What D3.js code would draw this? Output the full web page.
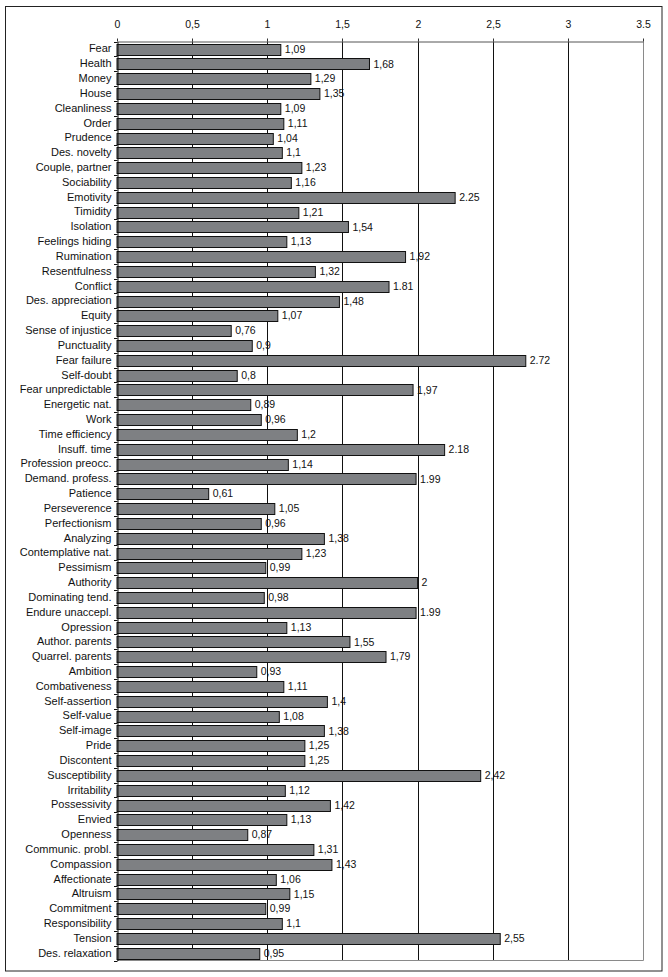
<!DOCTYPE html>
<html><head><meta charset="utf-8">
<script src="https://cdn.jsdelivr.net/npm/d3@7/dist/d3.min.js"></script>
<style>body{margin:0;background:#fff;} svg{display:block;}</style>
</head><body>
<script>
const categories = ["Fear","Health","Money","House","Cleanliness","Order","Prudence","Des. novelty","Couple, partner","Sociability","Emotivity","Timidity","Isolation","Feelings hiding","Rumination","Resentfulness","Conflict","Des. appreciation","Equity","Sense of injustice","Punctuality","Fear failure","Self-doubt","Fear unpredictable","Energetic nat.","Work","Time efficiency","Insuff. time","Profession preocc.","Demand. profess.","Patience","Perseverence","Perfectionism","Analyzing","Contemplative nat.","Pessimism","Authority","Dominating tend.","Endure unaccepl.","Opression","Author. parents","Quarrel. parents","Ambition","Combativeness","Self-assertion","Self-value","Self-image","Pride","Discontent","Susceptibility","Irritability","Possessivity","Envied","Openness","Communic. probl.","Compassion","Affectionate","Altruism","Commitment","Responsibility","Tension","Des. relaxation"];
const values = [1.09,1.68,1.29,1.35,1.09,1.11,1.04,1.1,1.23,1.16,2.25,1.21,1.54,1.13,1.92,1.32,1.81,1.48,1.07,0.76,0.9,2.72,0.8,1.97,0.89,0.96,1.2,2.18,1.14,1.99,0.61,1.05,0.96,1.38,1.23,0.99,2,0.98,1.99,1.13,1.55,1.79,0.93,1.11,1.4,1.08,1.38,1.25,1.25,2.42,1.12,1.42,1.13,0.87,1.31,1.43,1.06,1.15,0.99,1.1,2.55,0.95];
const valueLabels = ["1,09","1,68","1,29","1,35","1,09","1,11","1,04","1,1","1,23","1,16","2.25","1,21","1,54","1,13","1,92","1,32","1.81","1,48","1,07","0,76","0,9","2.72","0,8","1,97","0,89","0,96","1,2","2.18","1,14","1.99","0,61","1,05","0,96","1,38","1,23","0,99","2","0,98","1.99","1,13","1,55","1,79","0,93","1,11","1,4","1,08","1,38","1,25","1,25","2,42","1,12","1,42","1,13","0,87","1,31","1,43","1,06","1,15","0,99","1,1","2,55","0,95"];
const tickValues = [0,0.5,1,1.5,2,2.5,3,3.5];
const tickLabels = ["0","0,5","1","1,5","2","2,5","3","3.5"];

const W = 668, H = 977;
const mLeft = 117, mRight = 643, mTop = 41.5, mBottom = 960.5;
const font = "'Liberation Sans', Arial, sans-serif";

const svg = d3.select("body").append("svg").attr("width", W).attr("height", H);

svg.append("rect").attr("x",5.5).attr("y",6.5).attr("width",656.5).attr("height",964.5)
  .attr("fill","#fff").attr("stroke","#222").attr("stroke-width",1);

const x = d3.scaleLinear().domain([0,3.5]).range([mLeft,mRight]);
const y = d3.scaleBand().domain(categories).range([mTop,mBottom]).paddingInner(0.28).paddingOuter(0.14);

// gridlines
svg.append("g").selectAll("line").data(tickValues.slice(1)).join("line")
  .attr("x1",d=>Math.round(x(d))+0.5).attr("x2",d=>Math.round(x(d))+0.5)
  .attr("y1",mTop).attr("y2",mBottom)
  .attr("stroke",d=>d===3.5?"#8a8a8a":"#111").attr("stroke-width",1);
svg.append("line").attr("x1",mLeft).attr("x2",Math.round(x(3.5))+0.5).attr("y1",mBottom).attr("y2",mBottom)
  .attr("stroke","#8a8a8a");

// top axis
const xAxis = d3.axisTop(x).tickValues(tickValues).tickFormat((d,i)=>tickLabels[i]).tickSize(3).tickSizeOuter(0);
const gx = svg.append("g").attr("transform",`translate(0,${mTop})`).call(xAxis);
gx.select(".domain").attr("stroke","#555");
gx.selectAll(".tick line").attr("stroke","#333");
gx.selectAll(".tick text").attr("font-family",font).attr("font-size","10.5px").attr("fill","#111").attr("dy","-8");
gx.selectAll(".tick").attr("transform",d=>`translate(${Math.round(x(d))+0.5},0)`);

// bars
svg.append("g").selectAll("rect").data(values).join("rect")
  .attr("x",x(0)).attr("y",(d,i)=>Math.round(y(categories[i]))+0.5)
  .attr("width",d=>x(d)-x(0)).attr("height",Math.round(y.bandwidth()))
  .attr("fill","#7e8083").attr("stroke","#111").attr("stroke-width",1);

// value labels
svg.append("g").selectAll("text").data(values).join("text")
  .attr("x",d=>x(d)+4).attr("y",(d,i)=>y(categories[i])+y.bandwidth()/2)
  .attr("dy","0.36em").attr("font-family",font).attr("font-size","10.5px").attr("fill","#111")
  .text((d,i)=>valueLabels[i]);

// left axis
const yAxis = d3.axisLeft(y).tickSize(0).tickPadding(6);
const gy = svg.append("g").attr("transform",`translate(${mLeft+0.5},0)`).call(yAxis);
gy.select(".domain").attr("stroke","#111");
gy.selectAll(".tick text").attr("font-family",font).attr("font-size","11px").attr("fill","#111");
const bounds = d3.range(categories.length+1).map(i=>mTop + i*(mBottom-mTop)/categories.length);
svg.append("g").selectAll("line").data(bounds).join("line")
  .attr("x1",mLeft-3).attr("x2",mLeft+0.5).attr("y1",d=>Math.round(d)+0.5).attr("y2",d=>Math.round(d)+0.5)
  .attr("stroke","#111");
</script>
</body></html>
